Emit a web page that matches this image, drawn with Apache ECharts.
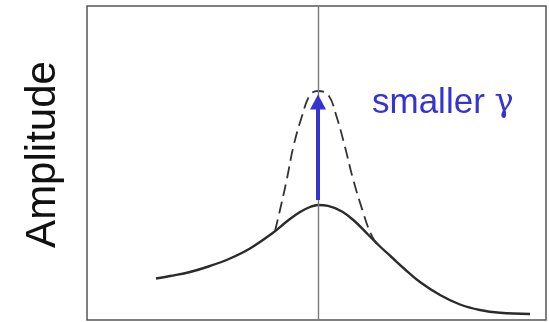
<!DOCTYPE html>
<html>
<head>
<meta charset="utf-8">
<script src="https://cdn.jsdelivr.net/npm/echarts@6/dist/echarts.min.js"></script>
<style>
  html, body { margin: 0; padding: 0; background: #fff; }
  #chart { width: 549px; height: 322px; }
</style>
</head>
<body>
<div id="chart"></div>
<script>
// Detuning (arbitrary units, resonance at 0) and response amplitude
var broadX = [-1.62, -1.48, -1.28, -1.08, -0.88, -0.68, -0.46, -0.30, -0.18, -0.08, 0, 0.10, 0.24, 0.37, 0.50, 0.62, 0.74, 0.86, 1.02, 1.22, 1.42, 1.62, 1.82, 2.12];
var broadY = [0.415, 0.44, 0.48, 0.54, 0.615, 0.715, 0.865, 0.995, 1.08, 1.13, 1.15, 1.142, 1.085, 0.985, 0.855, 0.735, 0.625, 0.515, 0.38, 0.25, 0.155, 0.10, 0.072, 0.06];

// Narrower, taller resonance for a smaller damping rate
var narrowX = [-0.43, -0.38, -0.313, -0.247, -0.163, -0.08, 0, 0.103, 0.187, 0.27, 0.353, 0.453, 0.52, 0.59];
var narrowY = [0.89, 1.10, 1.40, 1.73, 2.03, 2.25, 2.29, 2.25, 2.03, 1.73, 1.40, 1.07, 0.88, 0.75];

// Arrow from the broad peak towards the narrow peak
var arrowFrom = [0, 1.20];
var arrowTo = [0, 2.18];

var axisRange = { xMin: -2.31, xMax: 2.28, yMin: 0, yMax: 3.14 };
var yTitle = 'Amplitude';
var noteText = 'smaller';
var noteSymbol = 'γ';
var notePos = [0.54, 2.17];

function zip(xs, ys) {
  return xs.map(function (x, i) { return [x, ys[i]]; });
}

var blue = '#3434cf';
var chart = echarts.init(document.getElementById('chart'), null, { renderer: 'canvas' });

chart.setOption({
  animation: false,
  backgroundColor: '#ffffff',
  grid: {
    left: 87, right: 3, top: 6, bottom: 2,
    show: true, borderColor: '#555', borderWidth: 1.5, backgroundColor: 'transparent'
  },
  xAxis: {
    type: 'value', min: axisRange.xMin, max: axisRange.xMax,
    axisLine: { show: false }, axisTick: { show: false },
    axisLabel: { show: false }, splitLine: { show: false }
  },
  yAxis: {
    type: 'value', min: axisRange.yMin, max: axisRange.yMax,
    name: yTitle, nameLocation: 'middle', nameRotate: 90, nameGap: 23,
    nameTextStyle: {
      fontFamily: 'Liberation Sans', fontSize: 42, color: '#111',
      padding: [0, 0, 0, 17]
    },
    axisLine: { show: false }, axisTick: { show: false },
    axisLabel: { show: false }, splitLine: { show: false }
  },
  series: [
    {
      type: 'line', data: zip(broadX, broadY), smooth: 0.4,
      showSymbol: false, silent: true,
      lineStyle: { color: '#2b2b2b', width: 2.4 },
      markLine: {
        silent: true, symbol: ['none', 'none'], label: { show: false },
        lineStyle: { color: '#7a7a7a', width: 1.4, type: 'solid' },
        data: [{ xAxis: 0 }]
      },
      z: 3
    },
    {
      type: 'line', data: zip(narrowX, narrowY), smooth: 0.4,
      showSymbol: false, silent: true,
      lineStyle: { color: '#333', width: 1.8, type: [12, 6] },
      z: 3
    },
    {
      type: 'line', data: [], silent: true,
      markLine: {
        silent: true, symbol: ['none', 'triangle'], symbolSize: [16, 15],
        label: { show: false },
        lineStyle: { color: blue, width: 4, type: 'solid' },
        data: [[{ coord: arrowFrom }, { coord: arrowTo }]]
      },
      z: 4
    }
  ]
});

var p = chart.convertToPixel({ gridIndex: 0 }, notePos);
chart.setOption({
  graphic: [{
    type: 'text', x: p[0], y: p[1], silent: true,
    style: {
      text: '{a|' + noteText + ' }{b|' + noteSymbol + '}',
      verticalAlign: 'middle', align: 'left',
      rich: {
        a: { fontFamily: 'Liberation Sans', fontSize: 35, fill: blue, color: blue },
        b: { fontFamily: 'DejaVu Serif', fontSize: 32, fill: blue, color: blue }
      }
    }
  }]
});
</script>
</body>
</html>
